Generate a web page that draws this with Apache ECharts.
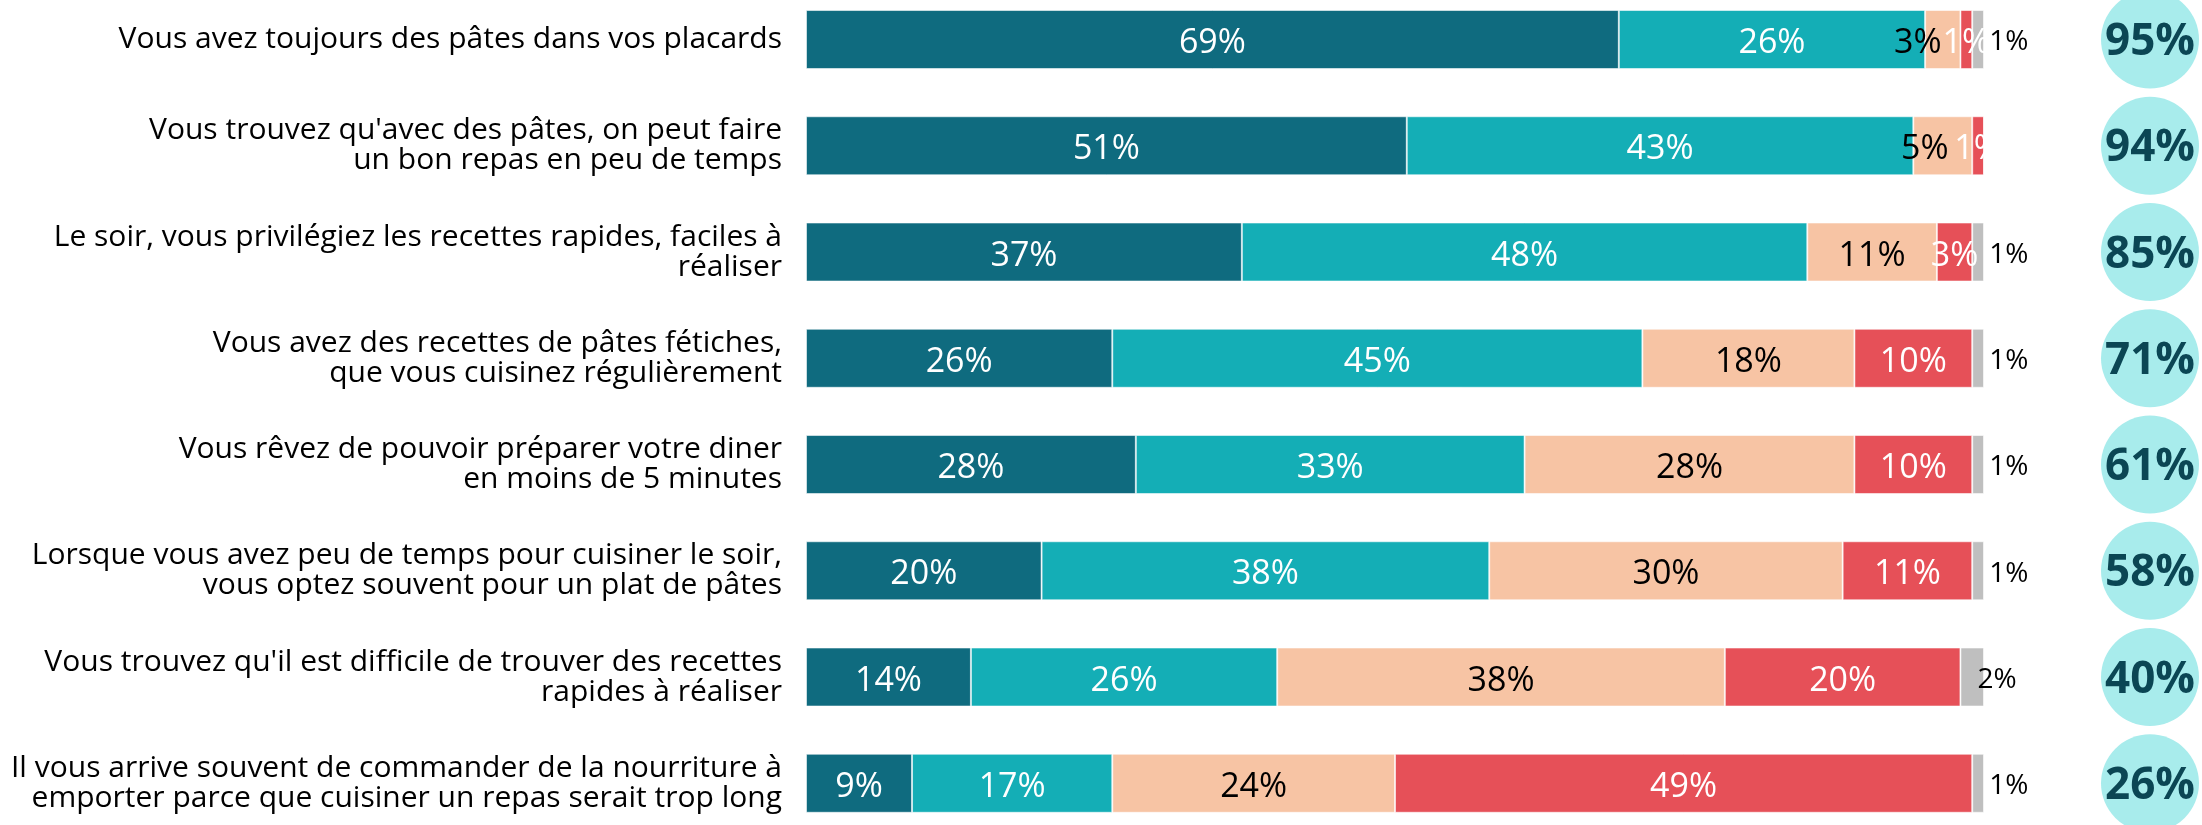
<!DOCTYPE html>
<html>
<head>
<meta charset="utf-8">
<script src="https://cdn.jsdelivr.net/npm/echarts@6/dist/echarts.min.js"></script>
<style>
  html, body { margin: 0; padding: 0; background: #fff; }
  #chart { width: 2202px; height: 825px; }
</style>
</head>
<body>
<div id="chart"></div>
<script>
  // questions (top to bottom)
  var categories = [
    "Vous avez toujours des pâtes dans vos placards",
    "Vous trouvez qu'avec des pâtes, on peut faire\nun bon repas en peu de temps",
    "Le soir, vous privilégiez les recettes rapides, faciles à\nréaliser",
    "Vous avez des recettes de pâtes fétiches,\nque vous cuisinez régulièrement",
    "Vous rêvez de pouvoir préparer votre diner\nen moins de 5 minutes",
    "Lorsque vous avez peu de temps pour cuisiner le soir,\nvous optez souvent pour un plat de pâtes",
    "Vous trouvez qu'il est difficile de trouver des recettes\nrapides à réaliser",
    "Il vous arrive souvent de commander de la nourriture à\nemporter parce que cuisiner un repas serait trop long"
  ];

  // réponses en %
  var toutAFait = [69, 51, 37, 26, 28, 20, 14, 9];
  var plutot = [26, 43, 48, 45, 33, 38, 26, 17];
  var plutotPas = [3, 5, 11, 18, 28, 30, 38, 24];
  var pasDuTout = [1, 1, 3, 10, 10, 11, 20, 49];
  var nsp = [1, 0, 1, 1, 1, 1, 2, 1];

  // total "d'accord" dans les bulles
  var totals = [95, 94, 85, 71, 61, 58, 40, 26];

  var FONT = "'Open Sans', 'Noto Sans', sans-serif";

  // petits décalages des étiquettes qui se chevauchent (série -> ligne -> px)
  var labelNudge = { 2: { 0: -25, 1: -18 } };

  var chart = echarts.init(document.getElementById('chart'));

  function pct(p) {
    return p.value > 0 ? p.value + '%' : '';
  }

  function barSeries(idx, name, data, color, textColor) {
    return {
      name: name,
      type: 'bar',
      stack: 'total',
      xAxisIndex: 0,
      yAxisIndex: 0,
      barWidth: 59,
      itemStyle: { color: color, borderColor: 'rgba(255,255,255,0.55)', borderWidth: 1 },
      label: {
        show: true,
        position: 'inside',
        offset: [0, 4],
        color: textColor,
        fontFamily: FONT,
        fontSize: 34,
        formatter: pct
      },
      data: data.map(function (v, i) {
        var nudge = labelNudge[idx] && labelNudge[idx][i];
        if (nudge) {
          return { value: v, label: { offset: [nudge, 4] } };
        }
        return v;
      })
    };
  }

  var series = [
    barSeries(0, 'Tout à fait', toutAFait, '#0f6b7f', '#ffffff'),
    barSeries(1, 'Plutôt', plutot, '#14aeb6', '#ffffff'),
    barSeries(2, 'Plutôt pas', plutotPas, '#f7c4a4', '#000000'),
    barSeries(3, 'Pas du tout', pasDuTout, '#e65058', '#ffffff'),
    {
      name: 'NSP',
      type: 'bar',
      stack: 'total',
      barWidth: 59,
      itemStyle: { color: '#bfbfbf', borderColor: 'rgba(255,255,255,0.55)', borderWidth: 1 },
      label: {
        show: true,
        position: 'insideLeft',
        distance: 17,
        offset: [0, 3],
        color: '#000000',
        fontFamily: FONT,
        fontSize: 28,
        formatter: pct
      },
      data: nsp
    },
    {
      name: 'Total',
      type: 'scatter',
      xAxisIndex: 1,
      yAxisIndex: 1,
      symbol: 'circle',
      symbolSize: 98,
      itemStyle: { color: '#a8ecec', opacity: 1 },
      label: {
        show: true,
        position: 'inside',
        offset: [0, 3],
        color: '#0b4654',
        fontFamily: FONT,
        fontWeight: 'bold',
        fontSize: 44,
        formatter: function (p) { return p.value[2] + '%'; }
      },
      data: totals.map(function (t, i) { return [1, i, t]; })
    }
  ];

  var option = {
    backgroundColor: '#ffffff',
    animation: false,
    grid: [
      { left: 806, width: 1178, top: -13.6, height: 850, outerBoundsMode: 'none', containLabel: false },
      { left: 2101, width: 98, top: -13.6, height: 850, outerBoundsMode: 'none', containLabel: false }
    ],
    xAxis: [
      { type: 'value', gridIndex: 0, min: 0, max: 100, show: false },
      { type: 'value', gridIndex: 1, min: 0, max: 2, show: false }
    ],
    yAxis: [
      {
        type: 'category',
        gridIndex: 0,
        inverse: true,
        data: categories,
        axisLine: { show: false },
        axisTick: { show: false },
        splitLine: { show: false },
        axisLabel: {
          margin: 24,
          color: '#000000',
          fontFamily: FONT,
          fontSize: 30,
          lineHeight: 30,
          padding: [8, 0, 0, 0],
          align: 'right'
        }
      },
      {
        type: 'category',
        gridIndex: 1,
        inverse: true,
        data: categories,
        show: false
      }
    ],
    series: series
  };

  chart.setOption(option);
</script>
</body>
</html>
